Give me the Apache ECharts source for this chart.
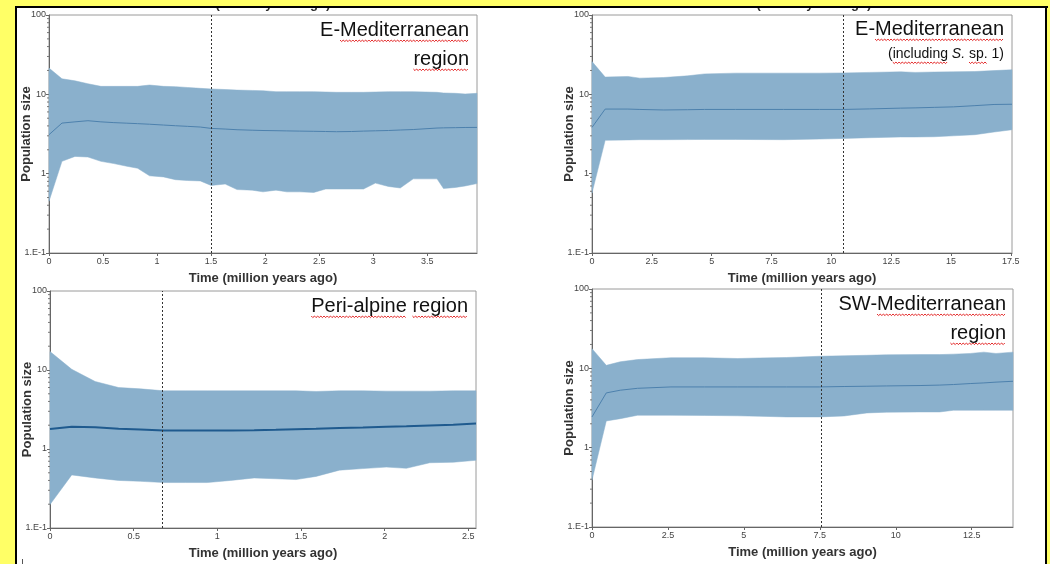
<!DOCTYPE html>
<html>
<head>
<meta charset="utf-8">
<title>Bayesian skyline plots</title>
<script src="https://cdn.jsdelivr.net/npm/echarts@6.0.0/dist/echarts.min.js"></script>
<style>
  html, body { margin: 0; padding: 0; background: #ffff66; }
  #chart { width: 1050px; height: 564px; }
</style>
</head>
<body>
<div id="chart"></div>
<script>
// ---- Data: time (million years ago) with 95% HPD lower / median / upper population size ----

// E-Mediterranean region
const EMED_TIME   = [0, 0.12, 0.24, 0.36, 0.48, 0.6, 0.72, 0.82, 0.93, 1.06, 1.17, 1.28, 1.4, 1.5, 1.63, 1.74, 1.88, 1.98, 2.1, 2.2, 2.32, 2.45, 2.56, 2.66, 2.8, 2.91, 3.02, 3.14, 3.25, 3.37, 3.59, 3.65, 3.76, 3.85, 3.96];
const EMED_LOWER  = [0.45, 1.43, 1.65, 1.62, 1.43, 1.34, 1.24, 1.17, 0.94, 0.91, 0.84, 0.82, 0.81, 0.71, 0.74, 0.63, 0.62, 0.59, 0.62, 0.59, 0.59, 0.58, 0.64, 0.64, 0.64, 0.64, 0.76, 0.69, 0.66, 0.86, 0.86, 0.65, 0.67, 0.70, 0.75];
const EMED_MEDIAN = [3.1, 4.34, 4.5, 4.65, 4.5, 4.4, 4.33, 4.27, 4.2, 4.1, 4.02, 3.95, 3.87, 3.72, 3.65, 3.58, 3.53, 3.5, 3.48, 3.46, 3.44, 3.42, 3.4, 3.38, 3.4, 3.44, 3.47, 3.5, 3.55, 3.6, 3.76, 3.78, 3.8, 3.82, 3.83];
const EMED_UPPER  = [21.4, 15.7, 14.8, 13.6, 12.6, 12.6, 12.6, 12.6, 13.1, 12.6, 12.5, 12.2, 11.9, 11.7, 11.5, 11.3, 11.2, 11.1, 10.8, 10.8, 10.8, 10.8, 10.7, 10.6, 10.6, 10.6, 10.7, 10.8, 10.8, 10.8, 10.6, 10.4, 10.3, 10.1, 10.3];

// E-Mediterranean (including S. sp. 1)
const EMEDS_TIME   = [0, 0.55, 1.5, 2.0, 3.0, 4.0, 4.7, 6, 8, 9.5, 10.5, 11.6, 12.9, 13.5, 14.3, 15.1, 16, 16.8, 17.55];
const EMEDS_LOWER  = [0.57, 2.63, 2.66, 2.68, 2.68, 2.69, 2.7, 2.7, 2.68, 2.73, 2.78, 2.84, 2.9, 2.9, 2.92, 3.0, 3.1, 3.35, 3.58];
const EMEDS_MEDIAN = [3.83, 6.52, 6.52, 6.45, 6.35, 6.4, 6.45, 6.45, 6.45, 6.45, 6.45, 6.55, 6.7, 6.75, 6.85, 6.95, 7.2, 7.45, 7.5];
const EMEDS_UPPER  = [25.9, 16.5, 16.8, 16.0, 16.3, 17.1, 18.1, 18.5, 18.5, 18.5, 18.6, 18.9, 19.2, 18.9, 19.1, 19.2, 19.4, 19.9, 20.4];

// Peri-alpine region
const PERI_TIME   = [0, 0.13, 0.27, 0.41, 0.54, 0.68, 0.81, 0.94, 1.08, 1.22, 1.35, 1.47, 1.59, 1.73, 1.87, 2.01, 2.13, 2.27, 2.41, 2.546];
const PERI_LOWER  = [0.198, 0.47, 0.43, 0.40, 0.39, 0.376, 0.376, 0.376, 0.40, 0.43, 0.42, 0.41, 0.45, 0.54, 0.565, 0.59, 0.57, 0.67, 0.68, 0.72];
const PERI_MEDIAN = [1.79, 1.91, 1.88, 1.8, 1.76, 1.72, 1.72, 1.72, 1.72, 1.73, 1.75, 1.78, 1.8, 1.84, 1.87, 1.91, 1.94, 1.99, 2.03, 2.11];
const PERI_UPPER  = [17.1, 10.2, 7.15, 6.0, 5.77, 5.45, 5.45, 5.45, 5.45, 5.45, 5.45, 5.45, 5.35, 5.45, 5.45, 5.4, 5.4, 5.4, 5.45, 5.45];

// SW-Mediterranean region
const SWMED_TIME   = [0, 0.47, 0.93, 1.5, 2.6, 3.7, 4.8, 5.5, 6.4, 7.5, 8.3, 9.05, 9.7, 10.8, 11.45, 11.9, 12.45, 12.9, 13.3, 13.86];
const SWMED_LOWER  = [0.39, 2.17, 2.32, 2.56, 2.56, 2.55, 2.52, 2.49, 2.44, 2.44, 2.51, 2.74, 2.8, 2.82, 2.82, 2.96, 2.96, 2.96, 2.96, 2.96];
const SWMED_MEDIAN = [2.44, 4.9, 5.3, 5.6, 5.83, 5.83, 5.83, 5.83, 5.83, 5.83, 5.9, 5.95, 6.0, 6.07, 6.15, 6.25, 6.43, 6.55, 6.7, 6.87];
const SWMED_UPPER  = [17.7, 10.9, 12.1, 12.9, 13.6, 13.6, 13.3, 13.5, 13.7, 14.2, 14.4, 14.6, 14.8, 14.9, 14.9, 15.1, 15.4, 16.0, 15.4, 16.0];

// Axis extents and reference lines (time of the dashed marker)
const X_MAX      = [3.96, 17.55, 2.546, 13.86];
const X_INTERVAL = [0.5, 2.5, 0.5, 2.5];
const MARKER_AT  = [1.5, 10.5, 0.67, 7.56];
const Y_TICKS    = [0.1, 1, 10, 100];

const X_NAME = 'Time (million years ago)';
const Y_NAME = 'Population size';

// ---- Layout / style ----
const FONT = '"Liberation Sans", Arial, Helvetica, sans-serif';
const BAND = '#8ab0cc';
const panels = [
  { time: EMED_TIME,  lower: EMED_LOWER,  median: EMED_MEDIAN,  upper: EMED_UPPER,
    box: { left: 49, top: 15, width: 428, height: 238 }, lw: 1, lc: '#4d81ad' },
  { time: EMEDS_TIME, lower: EMEDS_LOWER, median: EMEDS_MEDIAN, upper: EMEDS_UPPER,
    box: { left: 592, top: 15, width: 420, height: 238 }, lw: 1, lc: '#4d81ad' },
  { time: PERI_TIME,  lower: PERI_LOWER,  median: PERI_MEDIAN,  upper: PERI_UPPER,
    box: { left: 50, top: 291, width: 426, height: 237 }, lw: 2, lc: '#1f5a8e' },
  { time: SWMED_TIME, lower: SWMED_LOWER, median: SWMED_MEDIAN, upper: SWMED_UPPER,
    box: { left: 592, top: 289, width: 421, height: 238 }, lw: 1, lc: '#4d81ad' }
];

// minor log ticks (2..9 within each decade)
const MINOR = [];
for (let d = 0.1; d < 100; d *= 10) {
  for (let m = 2; m <= 9; m++) MINOR.push(+(m * d).toPrecision(3));
}

const grids = [], xAxes = [], yAxes = [], series = [];

panels.forEach((p, i) => {
  grids.push(Object.assign({
    show: true, borderColor: '#9a9a9a', borderWidth: 1, backgroundColor: '#fff'
  }, p.box));

  xAxes.push({
    type: 'value', gridIndex: i, min: 0, max: X_MAX[i], interval: X_INTERVAL[i],
    name: X_NAME, nameLocation: 'middle', nameGap: 19, nameMoveOverlap: false,
    nameTextStyle: { fontFamily: FONT, fontWeight: 'bold', fontSize: 13, color: '#333' },
    axisLine: { show: true, onZero: false, lineStyle: { color: '#666', width: 1 } },
    axisTick: { show: true, length: 3, lineStyle: { color: '#666' } },
    axisLabel: { fontFamily: FONT, fontSize: 9, color: '#444', margin: 4, showMaxLabel: false,
      formatter: v => String(+v.toFixed(2)) },
    splitLine: { show: false }
  });

  yAxes.push({
    type: 'log', logBase: 10, gridIndex: i, min: Y_TICKS[0], max: Y_TICKS[Y_TICKS.length - 1],
    name: Y_NAME, nameLocation: 'middle', nameGap: 16, nameRotate: 90, nameMoveOverlap: false,
    nameTextStyle: { fontFamily: FONT, fontWeight: 'bold', fontSize: 13, color: '#333' },
    axisLine: { show: true, lineStyle: { color: '#666', width: 1 } },
    axisTick: { show: true, length: 3, lineStyle: { color: '#666' } },
    axisLabel: { fontFamily: FONT, fontSize: 9, color: '#444', margin: 3,
      formatter: v => (v < 0.5 ? '1.E-1' : String(Math.round(v))) },
    splitLine: { show: false }
  });

  // 95% HPD band drawn as one polygon through the axes' scales
  series.push({
    type: 'custom', xAxisIndex: i, yAxisIndex: i, silent: true, z: 1,
    data: p.time.map((t, k) => [t, p.lower[k], p.upper[k]]),
    encode: { x: 0, y: [1, 2] },
    renderItem: (params, api) => {
      if (params.dataIndex !== 0) return null;
      const pts = [];
      for (let k = 0; k < p.time.length; k++) pts.push(api.coord([p.time[k], p.upper[k]]));
      for (let k = p.time.length - 1; k >= 0; k--) pts.push(api.coord([p.time[k], p.lower[k]]));
      return { type: 'polygon', shape: { points: pts }, style: { fill: BAND, stroke: BAND, lineWidth: 0.5 } };
    }
  });

  // median population size
  series.push({
    type: 'line', xAxisIndex: i, yAxisIndex: i, z: 3, silent: true,
    showSymbol: false, symbol: 'none', smooth: false,
    data: p.time.map((t, k) => [t, p.median[k]]),
    lineStyle: { color: p.lc, width: p.lw },
    markLine: {
      silent: true, symbol: ['none', 'none'], label: { show: false }, animation: false,
      lineStyle: { color: '#333', width: 1, type: [2, 2] },
      data: [{ xAxis: MARKER_AT[i] }]
    }
  });

  // minor ticks on the log axis
  series.push({
    type: 'custom', xAxisIndex: i, yAxisIndex: i, silent: true, z: 4,
    data: MINOR.map(v => [0, v]),
    encode: { x: 0, y: 1 },
    renderItem: (params, api) => {
      const c = api.coord([0, api.value(1)]);
      return { type: 'line', shape: { x1: c[0] - 2, y1: c[1], x2: c[0], y2: c[1] },
        style: { stroke: '#777', lineWidth: 1 } };
    }
  });
});

// ---- Region labels (right-aligned, with spell-check style squiggles) ----
const mctx = document.createElement('canvas').getContext('2d');
function tw(text, size, italic) {
  mctx.font = (italic ? 'italic ' : '') + size + 'px ' + FONT;
  return mctx.measureText(text).width;
}
function squiggle(x0, x1, y) {
  const pts = [];
  let k = 0;
  for (let x = x0; x <= x1 + 0.01; x += 1.6, k++) pts.push([x, y + (k % 2 ? 1.6 : 0)]);
  return { type: 'polyline', z: 30, silent: true, shape: { points: pts },
    style: { stroke: '#e01010', lineWidth: 0.9, fill: null } };
}
const graphics = [];
function label(text, right, baseline, size, underlined) {
  graphics.push({
    type: 'text', z: 30, silent: true, x: right, y: baseline - size * 0.34,
    style: { text: text, font: size + 'px ' + FONT, fill: '#111', textAlign: 'right', textVerticalAlign: 'middle' }
  });
  const full = tw(text, size);
  underlined.forEach(w => {
    const idx = text.indexOf(w);
    const x0 = right - full + tw(text.slice(0, idx), size);
    graphics.push(squiggle(x0, x0 + tw(w, size), baseline + 3));
  });
}

// page frame
graphics.push({ type: 'rect', z: -10, silent: true, shape: { x: 16, y: 7, width: 1030, height: 570 },
  style: { fill: '#fff', stroke: '#000', lineWidth: 2 } });
// axis titles of the row above, cut off by the frame
graphics.push({ type: 'text', z: 5, silent: true, x: 256, y: 4,
  style: { text: X_NAME, font: 'bold 13px ' + FONT, fill: '#333', textAlign: 'center', textVerticalAlign: 'middle' } });
graphics.push({ type: 'text', z: 5, silent: true, x: 797, y: 4,
  style: { text: X_NAME, font: 'bold 13px ' + FONT, fill: '#333', textAlign: 'center', textVerticalAlign: 'middle' } });
graphics.push({ type: 'rect', z: 40, silent: true, shape: { x: 0, y: 0, width: 1050, height: 6 }, style: { fill: '#ffff66' } });
graphics.push({ type: 'rect', z: 41, silent: true, shape: { x: 15, y: 6, width: 1033, height: 2 }, style: { fill: '#000' } });
graphics.push({ type: 'rect', z: 41, silent: true, shape: { x: 22, y: 559, width: 1, height: 5 }, style: { fill: '#555' } });

label('E-Mediterranean', 469, 37, 20, ['Mediterranean']);
label('region', 469, 66, 20, ['region']);
label('E-Mediterranean', 1004, 36, 20, ['Mediterranean']);
label('Peri-alpine region', 468, 313, 20, ['Peri-alpine', 'region']);
label('SW-Mediterranean', 1006, 311, 20, ['Mediterranean']);
label('region', 1006, 340, 20, ['region']);

// "(including S. sp. 1)" with an italic genus initial
(function () {
  const size = 14, right = 1004, baseline = 59;
  const a = '(including ', b = 'S.', c = ' sp. 1)';
  const wa = tw(a, size), wb = tw(b, size, true), wc = tw(c, size);
  const x0 = right - (wa + wb + wc);
  graphics.push({
    type: 'text', z: 30, silent: true, x: x0, y: baseline - size * 0.34,
    style: {
      text: '{n|' + a + '}{i|' + b + '}{n|' + c + '}', textAlign: 'left', textVerticalAlign: 'middle',
      rich: {
        n: { fontFamily: FONT, fontSize: size, fill: '#111', color: '#111' },
        i: { fontFamily: FONT, fontSize: size, fontStyle: 'italic', fill: '#111', color: '#111' }
      }
    }
  });
  const xi = x0 + tw('(', size);
  graphics.push(squiggle(xi, xi + tw('including', size), baseline + 3));
  const xs = x0 + wa + wb + tw(' ', size);
  graphics.push(squiggle(xs, xs + tw('sp.', size), baseline + 3));
})();

const chart = echarts.init(document.getElementById('chart'), null, { renderer: 'canvas' });
chart.setOption({
  backgroundColor: '#ffff66',
  animation: false,
  textStyle: { fontFamily: FONT },
  grid: grids,
  xAxis: xAxes,
  yAxis: yAxes,
  series: series,
  graphic: { elements: graphics }
});
</script>
</body>
</html>
